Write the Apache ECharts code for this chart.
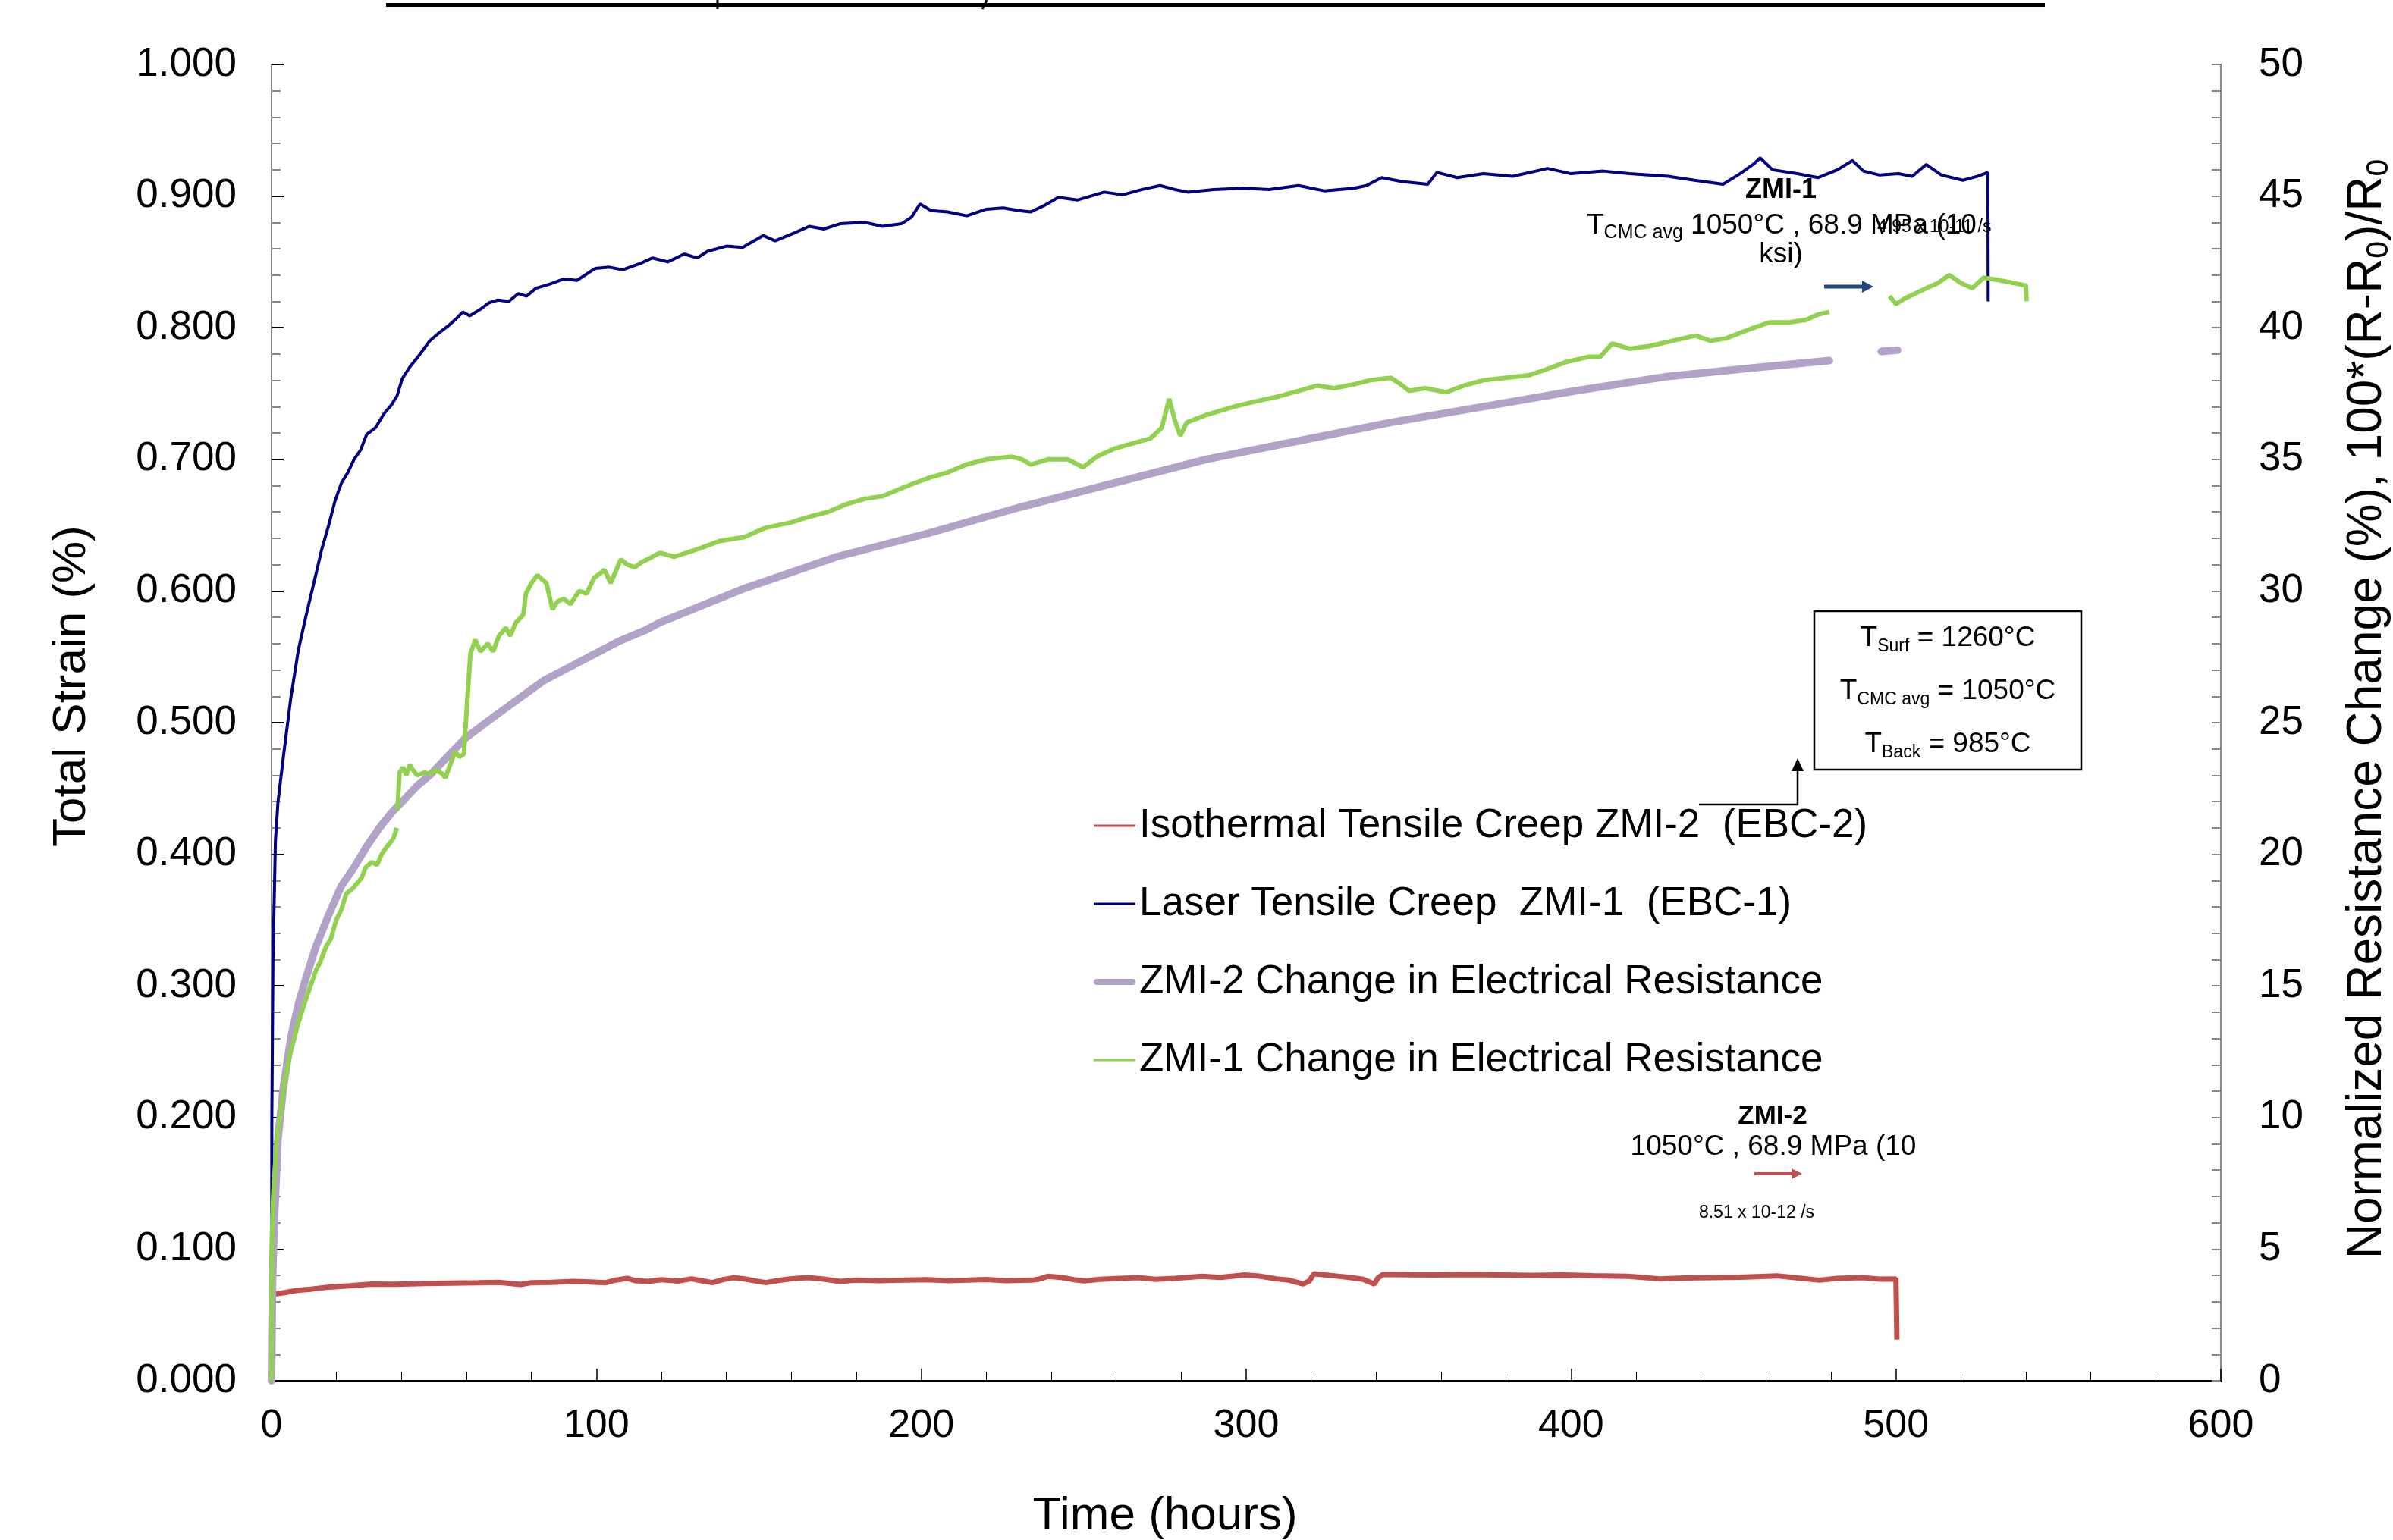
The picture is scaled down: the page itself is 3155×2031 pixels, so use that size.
<!DOCTYPE html>
<html><head><meta charset="utf-8">
<script src="https://cdn.jsdelivr.net/npm/echarts@6/dist/echarts.min.js"></script>
<style>html,body{margin:0;padding:0;background:#fff}#chart{width:3155px;height:2031px}</style>
</head><body><div id="chart"></div>
<script>
const FONT = '"Liberation Sans", Arial, sans-serif';

// ---- names ----
const seriesNames = [
  'Isothermal Tensile Creep ZMI-2  (EBC-2)',
  'Laser Tensile Creep  ZMI-1  (EBC-1)',
  'ZMI-2 Change in Electrical Resistance',
  'ZMI-1 Change in Electrical Resistance'
];
const xAxisTitle = 'Time (hours)';
const leftAxisTitle = 'Total Strain (%)';

// ---- data: [time (h), total strain (%)] ----
const redStrain = [
[0,0.063],[0.75,0.0658],[4,0.067],[8,0.0687],[12,0.0695],[17.8,0.0712],[24,0.0722],[30.9,0.0735],[38,0.0733],[47.3,0.0739],[55,0.0742],[63.6,0.0745],[70,0.0748],[76.7,0.0732],[80,0.0745],[86,0.0748],[93.1,0.0755],[98,0.0750],[102.9,0.0745],[106,0.0765],[109.5,0.0778],[112,0.076],[116,0.0755],[120,0.0768],[125,0.0757],[129.2,0.0774],[132,0.0762],[135.7,0.0745],[139,0.0768],[142.3,0.0783],[146,0.0772],[149,0.0758],[152.1,0.0745],[156,0.0762],[160,0.0775],[165.2,0.0783],[170,0.0772],[175,0.0755],[180,0.0765],[187,0.0760],[194.7,0.0764],[202,0.0768],[208,0.076],[214.3,0.0764],[220,0.0769],[226,0.0761],[233.9,0.0764],[236,0.0770],[238.9,0.0793],[243,0.0785],[247,0.0768],[250.3,0.0759],[255,0.0770],[260,0.0776],[266.7,0.0783],[272,0.0770],[278,0.0778],[286.4,0.0793],[292,0.0785],[299.5,0.0803],[304,0.0795],[309.3,0.0774],[313,0.0765],[317.5,0.0735],[319.5,0.0760],[320.8,0.0812],[326,0.0800],[332.3,0.0783],[336,0.0770],[339.5,0.0735],[340.5,0.0780],[342.1,0.0808],[350,0.0805],[358.5,0.0803],[368,0.0806],[378.1,0.0803],[388,0.0800],[397.8,0.0803],[407,0.0798],[417.4,0.0793],[422,0.0785],[427.3,0.0774],[435,0.0780],[443.6,0.0783],[452,0.0786],[463.3,0.0797],[470,0.0780],[476.4,0.0764],[482,0.0778],[489.5,0.0783],[495,0.0772],[500.0,0.0774],[500.3,0.0313]
];
const blueStrain = [
[0,0],[0.05,0.09],[0.1,0.2],[0.45,0.32],[1.2,0.41],[2.0,0.44],[3.6,0.473],[5.9,0.518],[8.25,0.555],[10.6,0.581],[13.7,0.613],[15.5,0.632],[17.6,0.65],[19.5,0.668],[21.5,0.682],[23.5,0.69],[25.4,0.70],[27.4,0.707],[29.3,0.719],[32,0.724],[34.7,0.735],[36.8,0.741],[38.6,0.748],[40.2,0.761],[42.5,0.770],[44.8,0.777],[46.6,0.783],[48.7,0.79],[51.5,0.796],[54.2,0.801],[56.5,0.806],[58.9,0.812],[61,0.809],[64.3,0.814],[67,0.819],[69.7,0.821],[73,0.820],[76.0,0.826],[78.5,0.824],[81.4,0.830],[85.5,0.833],[90,0.837],[94,0.836],[99.6,0.845],[104,0.846],[108,0.844],[113.7,0.849],[117.2,0.853],[122,0.850],[127,0.856],[131,0.853],[134.2,0.858],[140,0.862],[145,0.861],[151.3,0.870],[155,0.866],[160,0.871],[165.5,0.877],[170,0.875],[175,0.879],[182.6,0.880],[188,0.877],[193.9,0.879],[197,0.884],[199.6,0.894],[203,0.889],[208.1,0.888],[214,0.885],[220,0.890],[225.2,0.891],[230,0.889],[233.7,0.888],[238,0.893],[242.2,0.899],[248,0.897],[256.3,0.903],[262,0.901],[268,0.905],[273.5,0.908],[278,0.905],[282.0,0.903],[290,0.905],[299.1,0.906],[307,0.905],[316.1,0.908],[324,0.904],[333.2,0.906],[337,0.908],[341.7,0.914],[348,0.911],[355.9,0.909],[358.7,0.918],[365,0.914],[373,0.917],[382,0.915],[392.8,0.921],[400,0.917],[409.9,0.919],[418,0.917],[429.8,0.915],[438,0.912],[446.8,0.909],[452,0.917],[456,0.924],[458.2,0.929],[462,0.920],[469.6,0.917],[476,0.914],[482,0.920],[486.6,0.927],[490,0.919],[495,0.916],[500.8,0.917],[505,0.915],[509.3,0.924],[514,0.916],[520.6,0.912],[525,0.915],[528.3,0.918],[528.4,0.820]
];

// ---- data: [time (h), normalized resistance change (%)] ----
const purpleSeg1 = [
[0,0],[0.3,3.8],[0.86,6.1],[2.0,9.2],[3.6,11.1],[5.9,13.0],[8.25,14.3],[10.6,15.3],[13.7,16.5],[17.6,17.7],[21.5,18.8],[25.4,19.5],[29.3,20.3],[33.2,21.0],[37.1,21.6],[41.0,22.1],[44.8,22.6],[48.7,23.0],[52.6,23.5],[59.6,24.4],[68.2,25.2],[76,25.9],[83.8,26.6],[91.6,27.1],[99.3,27.6],[107.1,28.1],[114.9,28.5],[119.5,28.8],[145.6,30.1],[174,31.3],[202.4,32.2],[230.9,33.2],[259.3,34.1],[287.7,35.0],[316.1,35.7],[344.5,36.4],[372.9,37.0],[401.3,37.6],[429.8,38.15],[458.2,38.5],[479.5,38.75]
];
const purpleSeg2 = [[495.5,39.1],[500.5,39.15]];

const greenSeg1 = [
[0,0],[0.1,5.4],[0.47,6.9],[1.6,9.2],[2.8,10.2],[4.36,11.6],[5.9,12.5],[8.25,13.6],[10.6,14.5],[12,15.0],[13.7,15.6],[15,15.9],[16.8,16.5],[18.3,16.8],[19.9,17.5],[21.5,17.9],[23.0,18.5],[25,18.7],[27.7,19.1],[29,19.5],[30.8,19.7],[32.5,19.6],[33.9,20.0],[35,20.2],[36.3,20.4],[37.5,20.6],[38.6,21.0]
];
const greenSeg2 = [
[38.75,21.67],[39.4,23.1],[40.5,23.3],[41.5,23.0],[42.5,23.4],[43.5,23.2],[44.8,23.0],[47,23.1],[48.7,23.06],[50.5,23.2],[52.6,23.06],[53.5,22.9],[55,23.4],[56.5,23.9],[57.8,23.7],[59.2,23.8],[59.6,24.6],[61.2,27.6],[62.7,28.15],[64.3,27.7],[66.6,28.0],[68.2,27.7],[70,28.3],[72.1,28.6],[73.5,28.3],[75.2,28.8],[77.5,29.1],[78.3,29.9],[80,30.3],[81.8,30.6],[84.6,30.3],[86.5,29.3],[88,29.6],[90,29.7],[92,29.5],[94.7,30.0],[97,29.9],[99.3,30.5],[102.5,30.8],[104.4,30.3],[107.5,31.2],[109.5,31.0],[111.8,30.9],[114,31.1],[116.5,31.25],[119.5,31.45],[124,31.3],[131.4,31.6],[138,31.9],[145.6,32.05],[152,32.4],[159.8,32.6],[165,32.8],[171.2,33.0],[177,33.3],[182.6,33.5],[188,33.6],[193.9,33.9],[198,34.1],[202.4,34.3],[208,34.5],[213.8,34.8],[220,35.0],[228.0,35.1],[231,35.0],[233.7,34.8],[239,35.0],[245.1,35.0],[249.8,34.7],[254,35.1],[259.3,35.4],[265,35.6],[270.6,35.8],[274,36.2],[276.3,37.3],[278,36.5],[279.7,35.9],[281.7,36.4],[288,36.7],[296.2,37.0],[303,37.2],[310.4,37.4],[316,37.6],[321.8,37.8],[327,37.7],[333.2,37.85],[338,38.0],[344.5,38.1],[347,37.9],[350.2,37.6],[355,37.7],[361.6,37.55],[367,37.8],[372.9,38.0],[380,38.1],[387.2,38.2],[392,38.4],[398.5,38.7],[405.6,38.9],[409,38.9],[412.7,39.4],[418,39.2],[424.1,39.3],[431,39.5],[438.3,39.7],[443,39.5],[447.8,39.6],[454,39.9],[461.0,40.2],[467,40.2],[472.4,40.3],[476,40.5],[479.5,40.6]
];
const greenSeg3 = [
[498.0,41.2],[500,40.9],[502.6,41.1],[506,41.3],[509.3,41.5],[513,41.7],[516.4,42.0],[520,41.7],[523.5,41.5],[527,41.9],[532.1,41.8],[536,41.7],[540.0,41.6],[540.2,41.0]
];

function joinSegments(segs) {
  const out = [];
  segs.forEach((s, i) => {
    if (i > 0) out.push([(segs[i-1][segs[i-1].length-1][0] + s[0][0]) / 2, '-']);
    s.forEach(p => out.push(p));
  });
  return out;
}

const chart = echarts.init(document.getElementById('chart'), null, {renderer: 'canvas'});

const colors = {red: '#C0504D', blue: '#000080', purple: '#B3A2C7', green: '#92D050', arrowBlue: '#1F497D'};

// legend icons (55 x 14 box): thin line and thick rounded line
const thinIcon = 'path://M0,0h0.01v0.01h-0.01z M0,5.5h55v3h-55z M54.99,13.99h0.01v0.01h-0.01z';
const thickIcon = 'path://M0,0h0.01v0.01h-0.01z M4,3h47a4,4 0 0 1 0,8h-47a4,4 0 0 1 0,-8z M54.99,13.99h0.01v0.01h-0.01z';

const subRich = (main, sub) => ({
  m: {fontSize: main, lineHeight: Math.round(main * 1.2), fontFamily: FONT, color: '#000'},
  s: {fontSize: sub, lineHeight: Math.round(sub * 0.9), verticalAlign: 'bottom', fontFamily: FONT, color: '#000'}
});

const option = {
  animation: false,
  backgroundColor: '#ffffff',
  grid: {left: 358, right: 227, top: 85, bottom: 210, containLabel: false, outerBoundsMode: 'none'},
  legend: {
    orient: 'vertical', left: 1442, top: 1059, padding: 0, itemGap: 43,
    itemWidth: 55, itemHeight: 14,
    textStyle: {fontSize: 53, lineHeight: 60, color: '#000', fontFamily: FONT},
    data: [
      {name: seriesNames[0], icon: thinIcon, itemStyle: {color: colors.red}},
      {name: seriesNames[1], icon: thinIcon, itemStyle: {color: colors.blue}},
      {name: seriesNames[2], icon: thickIcon, itemStyle: {color: colors.purple}},
      {name: seriesNames[3], icon: thinIcon, itemStyle: {color: colors.green}}
    ]
  },
  xAxis: {
    type: 'value', min: 0, max: 600, interval: 100,
    name: xAxisTitle, nameLocation: 'middle', nameGap: 144,
    nameTextStyle: {fontSize: 62, lineHeight: 70, color: '#000', fontFamily: FONT, padding: [0, 214, 0, 0]},
    axisLine: {show: true, lineStyle: {color: '#000', width: 3}},
    axisTick: {show: true, inside: true, length: 16, lineStyle: {color: '#000', width: 1.5}},
    minorTick: {show: true, splitNumber: 5, length: 12, lineStyle: {color: '#000', width: 1}},
    axisLabel: {fontSize: 52, color: '#000', fontFamily: FONT, margin: 34},
    splitLine: {show: false}
  },
  yAxis: [
    {
      type: 'value', min: 0, max: 1, interval: 0.1, position: 'left',
      name: leftAxisTitle, nameLocation: 'middle', nameGap: 228, nameRotate: 90,
      nameTextStyle: {fontSize: 62, lineHeight: 70, color: '#000', fontFamily: FONT, padding: [0, 0, 0, 96]},
      axisLine: {show: true, lineStyle: {color: '#868686', width: 2}},
      axisTick: {show: true, inside: true, length: 16, lineStyle: {color: '#000', width: 2}},
      minorTick: {show: true, splitNumber: 5, length: 12, lineStyle: {color: '#868686', width: 2}},
      axisLabel: {fontSize: 53, color: '#000', fontFamily: FONT, margin: 46, formatter: v => v.toFixed(3)},
      splitLine: {show: false}
    },
    {
      type: 'value', min: 0, max: 50, interval: 5, position: 'right',
      name: '{m|Normalized Resistance Change (%), 100*(R-R}{s|0}{m|)/R}{s|0}',
      nameLocation: 'middle', nameGap: 157, nameRotate: 90,
      nameTextStyle: {
        color: '#000', fontFamily: FONT, padding: [0, 0, 0, 36],
        rich: {
          m: {fontSize: 64, lineHeight: 72, fontFamily: FONT, color: '#000'},
          s: {fontSize: 41, lineHeight: 30, verticalAlign: 'bottom', fontFamily: FONT, color: '#000'}
        }
      },
      axisLine: {show: true, lineStyle: {color: '#868686', width: 2}},
      axisTick: {show: true, inside: true, length: 12, lineStyle: {color: '#868686', width: 2}},
      minorTick: {show: true, splitNumber: 5, length: 12, lineStyle: {color: '#868686', width: 2}},
      axisLabel: {fontSize: 53, color: '#000', fontFamily: FONT, margin: 50},
      splitLine: {show: false}
    }
  ],
  series: [
    {name: seriesNames[0], type: 'line', yAxisIndex: 0, symbol: 'none', showSymbol: false, data: redStrain,
     lineStyle: {color: colors.red, width: 7}, itemStyle: {color: colors.red}, z: 2},
    {name: seriesNames[1], type: 'line', yAxisIndex: 0, symbol: 'none', showSymbol: false, data: blueStrain,
     lineStyle: {color: colors.blue, width: 4}, itemStyle: {color: colors.blue}, z: 2},
    {name: seriesNames[2], type: 'line', yAxisIndex: 1, symbol: 'none', showSymbol: false, connectNulls: false,
     data: joinSegments([purpleSeg1, purpleSeg2]),
     lineStyle: {color: colors.purple, width: 10, cap: 'round'}, itemStyle: {color: colors.purple}, z: 2},
    {name: seriesNames[3], type: 'line', yAxisIndex: 1, symbol: 'none', showSymbol: false, connectNulls: false,
     data: joinSegments([greenSeg1, greenSeg2, greenSeg3]),
     lineStyle: {color: colors.green, width: 6}, itemStyle: {color: colors.green}, z: 3}
  ],
  graphic: [
    // cut-off title underline at top
    {type: 'rect', z: 10, shape: {x: 509, y: 4, width: 2187, height: 5}, style: {fill: '#000'}},
    {type: 'line', z: 10, shape: {x1: 946, y1: 0, x2: 946, y2: 12}, style: {stroke: '#000', lineWidth: 3}},
    {type: 'line', z: 10, shape: {x1: 1301, y1: 0, x2: 1295, y2: 12}, style: {stroke: '#000', lineWidth: 3}},

    // ZMI-1 annotation
    {type: 'text', z: 10, style: {text: 'ZMI-1', x: 2348, y: 251, align: 'center', verticalAlign: 'middle',
      fontSize: 36, fontWeight: 'bold', fontFamily: FONT, fill: '#000'}},
    {type: 'text', z: 10, style: {text: '{m|T}{s|CMC avg}{m| 1050°C , 68.9 MPa (10}', x: 2092, y: 298,
      align: 'left', verticalAlign: 'middle', fontFamily: FONT, fill: '#000', rich: subRich(37, 25)}},
    {type: 'text', z: 11, style: {text: '4.95 x 10-11 /s', x: 2475, y: 300, align: 'left', verticalAlign: 'middle',
      fontSize: 23, fontFamily: FONT, fill: '#000'}},
    {type: 'text', z: 10, style: {text: 'ksi)', x: 2348, y: 336, align: 'center', verticalAlign: 'middle',
      fontSize: 37, fontFamily: FONT, fill: '#000'}},
    {type: 'line', z: 10, shape: {x1: 2405, y1: 378, x2: 2457, y2: 378}, style: {stroke: colors.arrowBlue, lineWidth: 5}},
    {type: 'polygon', z: 10, shape: {points: [[2470, 378], [2455, 370], [2455, 386]]}, style: {fill: colors.arrowBlue}},

    // temperature box
    {type: 'rect', z: 10, shape: {x: 2392, y: 806, width: 352, height: 209}, style: {fill: '#fff', stroke: '#000', lineWidth: 2.5}},
    {type: 'text', z: 11, style: {text: '{m|T}{s|Surf}{m| = 1260°C}', x: 2568, y: 842, align: 'center', verticalAlign: 'middle',
      fontFamily: FONT, fill: '#000', rich: subRich(37, 23)}},
    {type: 'text', z: 11, style: {text: '{m|T}{s|CMC avg}{m| = 1050°C}', x: 2568, y: 912, align: 'center', verticalAlign: 'middle',
      fontFamily: FONT, fill: '#000', rich: subRich(37, 23)}},
    {type: 'text', z: 11, style: {text: '{m|T}{s|Back}{m| = 985°C}', x: 2568, y: 982, align: 'center', verticalAlign: 'middle',
      fontFamily: FONT, fill: '#000', rich: subRich(37, 23)}},
    // connector arrow from legend to box
    {type: 'polyline', z: 10, shape: {points: [[2240, 1061], [2370, 1061], [2370, 1014]]}, style: {stroke: '#000', lineWidth: 2.5, fill: null}},
    {type: 'polygon', z: 10, shape: {points: [[2370, 1000], [2362, 1017], [2378, 1017]]}, style: {fill: '#000'}},

    // ZMI-2 annotation
    {type: 'text', z: 10, style: {text: 'ZMI-2', x: 2337, y: 1472, align: 'center', verticalAlign: 'middle',
      fontSize: 35, fontWeight: 'bold', fontFamily: FONT, fill: '#000'}},
    {type: 'text', z: 10, style: {text: '1050°C , 68.9 MPa (10', x: 2338, y: 1513, align: 'center', verticalAlign: 'middle',
      fontSize: 37, fontFamily: FONT, fill: '#000'}},
    {type: 'line', z: 10, shape: {x1: 2313, y1: 1548, x2: 2364, y2: 1548}, style: {stroke: colors.red, lineWidth: 4}},
    {type: 'polygon', z: 10, shape: {points: [[2376, 1548], [2362, 1541], [2362, 1555]]}, style: {fill: colors.red}},
    {type: 'text', z: 10, style: {text: '8.51 x 10-12 /s', x: 2316, y: 1600, align: 'center', verticalAlign: 'middle',
      fontSize: 23, fontFamily: FONT, fill: '#000'}}
  ]
};
chart.setOption(option);
</script></body></html>
